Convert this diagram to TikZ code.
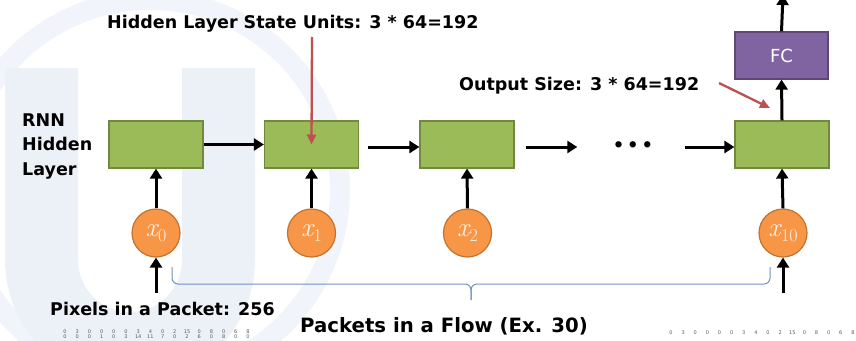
\documentclass[tikz,border=0pt]{standalone}
\usepackage{fontspec}
\setmainfont{DejaVu Sans}
\newfontfamily\lmfont{Latin Modern Roman}
\usetikzlibrary{arrows.meta}

\definecolor{cellfill}{RGB}{155,187,89}
\definecolor{cellborder}{RGB}{113,137,63}
\definecolor{infill}{RGB}{247,150,70}
\definecolor{inborder}{RGB}{196,114,48}
\definecolor{intext}{RGB}{253,240,228}
\definecolor{fcfill}{RGB}{128,100,162}
\definecolor{fcborder}{RGB}{92,71,118}
\definecolor{notered}{RGB}{192,80,77}
\definecolor{bracecol}{RGB}{110,146,196}
\definecolor{digitgray}{RGB}{90,90,90}
\definecolor{wm}{RGB}{236,241,248}
\definecolor{wmring}{RGB}{241,244,250}

% italic variable with a lowered index
\newcommand{\invar}[1]{{\lmfont\itshape x}\kern0.5pt\raisebox{-5pt}{\lmfont\fontsize{18}{18}\selectfont #1}}

\tikzset{
  cell/.style={draw=cellborder, fill=cellfill, line width=1.2pt,
    minimum width=94pt, minimum height=47pt, inner sep=0pt},
  inp/.style={circle, draw=inborder, fill=infill, line width=1.2pt,
    minimum size=48pt, inner sep=0pt, text=intext,
    font=\fontsize{27}{27}\selectfont},
  fcbox/.style={draw=fcborder, fill=fcfill, line width=1.2pt,
    minimum width=93pt, minimum height=47pt, inner sep=0pt,
    text=white, font=\fontsize{18}{18}\selectfont},
  flow/.style={line width=3pt, -{Triangle[length=10pt,width=12pt]}},
  note/.style={line width=2.3pt, draw=notered, -{Triangle[length=10pt,width=9pt]}},
  lbl/.style={font=\bfseries\fontsize{17.5}{20}\selectfont, inner sep=0pt},
  biglbl/.style={font=\bfseries\fontsize{19.7}{24}\selectfont, inner sep=0pt},
  bracepath/.style={draw=bracecol, line width=1pt, rounded corners=6pt},
  digit/.style={font=\fontsize{5}{5}\selectfont, text=digitgray, inner sep=0pt},
}

\begin{document}
\begin{tikzpicture}[x=1pt, y=-1pt]
\useasboundingbox (0,0) rectangle (856,340);

% faint emblem in the background
\draw[wmring, line width=20pt] (150,190) circle (190);
\fill[wm] (5,68) -- (5,260) arc (180:0:125) -- (255,68) -- (182,68)
  -- (182,260) arc (0:180:52) -- (78,68) -- cycle;

% recurrent hidden cells
\node[cell] (h1) at (156,144.5) {};
\node[cell] (h2) at (311.5,144.5) {};
\node[cell] (h3) at (467,144.5) {};
\node[cell] (h4) at (782,144.5) {};
\node[fcbox] (fc) at (781.5,55.5) {FC};
\node[inner sep=0pt, minimum width=107pt, font=\bfseries\fontsize{18}{18}\selectfont]
  (dots) at (633,147) {\textbullet\,\textbullet\,\textbullet};

% inputs
\node[inp] (x0) at (156,233) {\invar{0}};
\node[inp] (x1) at (311.5,233) {\invar{1}};
\node[inp] (x2) at (467.5,233) {\invar{2}};
\node[inp] (x10) at (783,233) {\invar{10}};

% recurrent connections
\draw[flow] (h1.east) -- (h2.west);
\draw[flow] ([xshift=9pt,yshift=-2.5pt]h2.east) -- ([yshift=-2.5pt]h3.west);
\draw[flow] ([xshift=11pt,yshift=-2.5pt]h3.east) -- ([xshift=-2pt]dots.west);
\draw[flow] ([xshift=-2pt]dots.east) -- ([yshift=-2.5pt]h4.west);

% input and output connections
\coordinate (in0) at (156,293);
\coordinate (in10) at (783,293);
\coordinate (out) at (783,-5);
\draw[flow] (x0.north) -- (h1.south);
\draw[flow] (x1.north) -- (h2.south);
\draw[flow] (x2.north) -- (h3.south);
\draw[flow] (x10.north) -- (h4.south);
\draw[flow] (in0) -- (x0.south);
\draw[flow] (in10) -- (x10.south);
\draw[flow] (h4.north) -- (fc.south);
\draw[flow] (fc.north) -- (out);

% labels
\node[lbl, anchor=base west] (units) at (107,28) {Hidden Layer State Units: 3 * 64=192};
\node[lbl, anchor=base west] (outsize) at (459,90) {Output Size: 3 * 64=192};
\node[lbl, anchor=base west, align=left] (rnn) at (22,175)
  {RNN\\[4.5pt]Hidden\\[4.5pt]Layer};
\node[lbl, anchor=base west] (pixels) at (50,315) {Pixels in a Packet: 256};
\node[biglbl, anchor=base west] (packets) at (300,332) {Packets in a Flow (Ex. 30)};

% annotation arrows
\coordinate (u1) at (312,37);
\coordinate (o1) at (719,83);
\coordinate (o2) at (770,108);
\draw[note] (u1) -- (h2.center);
\draw[note] (o1) -- (o2);

% brace under the sequence
\coordinate (bl) at (172,267);
\coordinate (br) at (770,267);
\coordinate (bt) at (471,300);
\draw[bracepath] (bl) |- (471,284) -- (bt);
\draw[bracepath] (br) |- (471,284) -- (bt);

% packet byte values
\foreach \v [count=\i] in {0,3,0,0,0,0,3,4,0,2,15,0,8,0,6,8}
  \node[digit] (pa\i) at ({65+(\i-1)*12.2},331.5) {\v};
\foreach \v [count=\i] in {0,0,0,1,0,3,14,11,7,0,2,6,0,8,0,0}
  \node[digit] (pb\i) at ({65+(\i-1)*12.2},337) {\v};
\foreach \v [count=\i] in {0,3,0,0,0,0,3,4,0,2,15,0,8,0,6,8}
  \node[digit] (qa\i) at ({671+(\i-1)*12.13},332.5) {\v};
\end{tikzpicture}
\end{document}
